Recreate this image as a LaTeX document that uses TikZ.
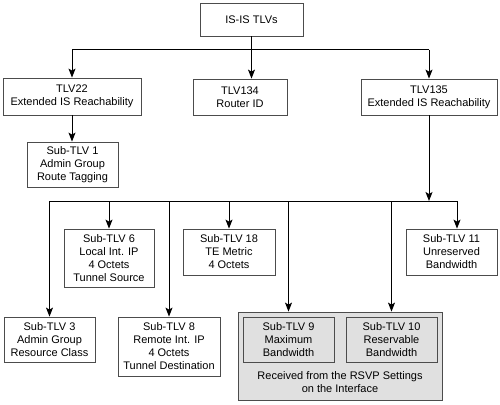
\documentclass[tikz,border=0pt]{standalone}
\usepackage{fontspec}
\setmainfont{Liberation Sans}
\usetikzlibrary{arrows.meta}
\tikzset{
  tlvbox/.style={draw=black!70,line width=0.8pt,align=center,inner sep=0pt,
    font=\fontsize{11}{13}\selectfont},
  arr/.style={line width=1pt,-{Stealth[length=9pt,width=7pt,inset=2pt]}},
  bus/.style={line width=1pt}
}
\begin{document}
\begin{tikzpicture}[x=1pt,y=-1pt]
\useasboundingbox (0,0) rectangle (500,404);
% top level
\node[tlvbox,minimum width=103pt,minimum height=33pt] (root) at (251.5,19.5) {IS-IS TLVs};
\node[tlvbox,minimum width=138pt,minimum height=37pt] (tlv22) at (72,96.5) {TLV22\\Extended IS Reachability};
\node[tlvbox,minimum width=94pt,minimum height=36pt] (tlv134) at (240,97) {TLV134\\Router ID};
\node[tlvbox,minimum width=136pt,minimum height=36pt] (tlv135) at (429,97) {TLV135\\Extended IS Reachability};
\node[tlvbox,minimum width=91pt,minimum height=45pt] (sub1) at (72.5,164.5) {Sub-TLV 1\\Admin Group\\Route Tagging};
% sub-TLVs of TLV135
\node[tlvbox,minimum width=90pt,minimum height=58pt] (sub6) at (109,258) {Sub-TLV 6\\Local Int. IP\\4 Octets\\Tunnel Source};
\node[tlvbox,minimum width=92pt,minimum height=46pt] (sub18) at (229,252) {Sub-TLV 18\\TE Metric\\4 Octets};
\node[tlvbox,minimum width=91pt,minimum height=46pt] (sub11) at (451.5,252) {Sub-TLV 11\\Unreserved\\Bandwidth};
\node[tlvbox,minimum width=91pt,minimum height=45pt] (sub3) at (49.5,339.5) {Sub-TLV 3\\Admin Group\\Resource Class};
\node[tlvbox,minimum width=102pt,minimum height=59pt] (sub8) at (169,346.5) {Sub-TLV 8\\Remote Int. IP\\4 Octets\\Tunnel Destination};
\node[tlvbox,fill=black!12,minimum width=204pt,minimum height=88pt] (rsvp) at (340,356) {};
\node[tlvbox,minimum width=91pt,minimum height=45pt] (sub9) at (288.5,339.5) {Sub-TLV 9\\Maximum\\Bandwidth};
\node[tlvbox,minimum width=91pt,minimum height=45pt] (sub10) at (391.5,339.5) {Sub-TLV 10\\Reservable\\Bandwidth};
\node[tlvbox,draw=none] (rsvptext) at (340,382.5) {Received from the RSVP Settings\\on the Interface};
% connectors, upper tree
\coordinate (topbus) at (0,50);
\draw[bus] (root.south) -- (root.south |- topbus);
\draw[bus] (tlv22.north |- topbus) -- (tlv135.north |- topbus);
\draw[arr] (tlv22.north |- topbus) -- (tlv22.north);
\draw[arr] (root.south |- topbus) -- (root.south |- tlv134.north);
\draw[arr] (tlv135.north |- topbus) -- (tlv135.north);
\draw[arr] (tlv22.south) -- (tlv22.south |- sub1.north);
% connectors, lower tree
\coordinate (busL) at (50,201);
\coordinate (busR) at (457,201);
\draw[bus] (busL) -- (busR);
\draw[arr] (tlv135.south) -- (tlv135.south |- busL);
\draw[arr] (sub3.north |- busL) -- (sub3.north);
\draw[arr] (sub6.north |- busL) -- (sub6.north);
\draw[arr] (sub8.north |- busL) -- (sub8.north);
\draw[arr] (sub18.north |- busL) -- (sub18.north);
\draw[arr] (sub9.north |- busL) -- (sub9.north |- rsvp.north);
\draw[arr] (sub10.north |- busL) -- (sub10.north |- rsvp.north);
\draw[arr] (busR) -- (busR |- sub11.north);
\end{tikzpicture}
\end{document}
